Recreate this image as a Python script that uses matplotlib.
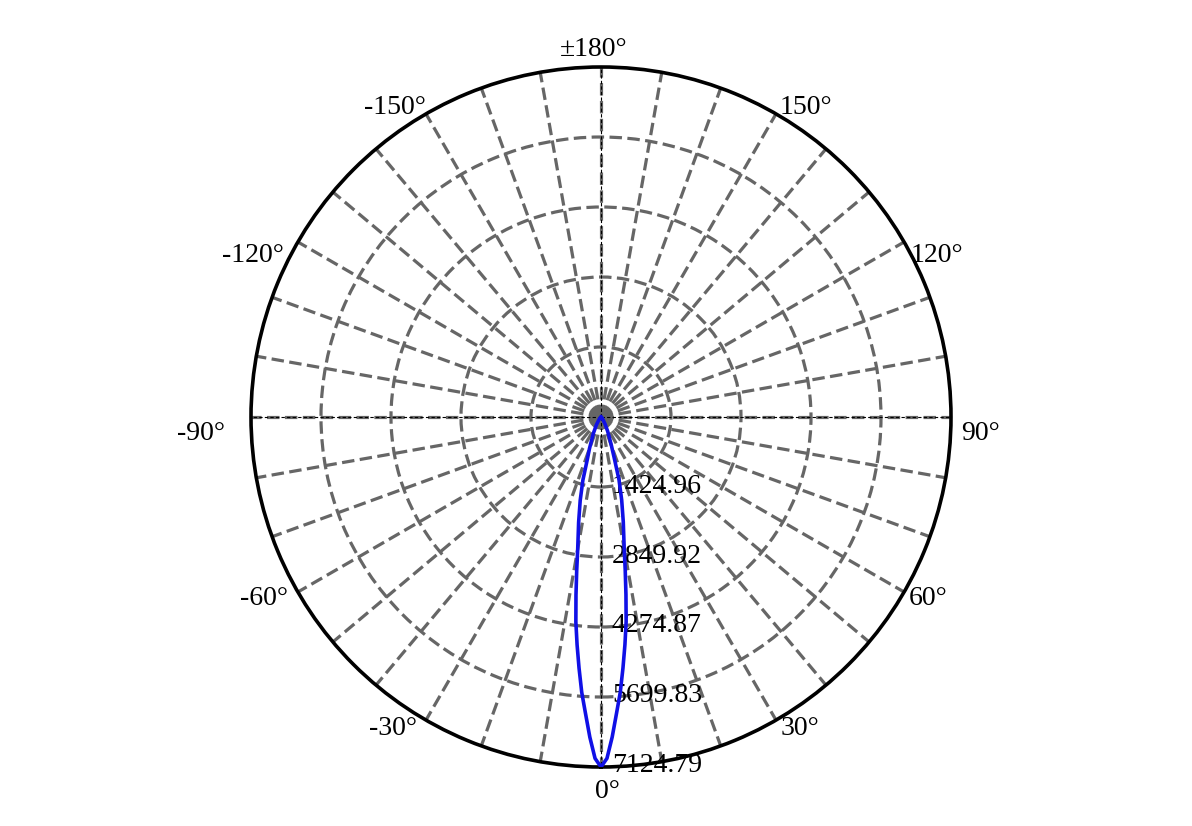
import numpy as np
import matplotlib
matplotlib.use("Agg")
import matplotlib.pyplot as plt

# ---- data ----
r_max = 7124.79
ring_values = [1424.96, 2849.92, 4274.87, 5699.83, 7124.79]
ring_labels = ["1424.96", "2849.92", "4274.87", "5699.83", "7124.79"]

angle_labels_deg = [0, 30, 60, 90, 120, 150, 180, -150, -120, -90, -60, -30]
angle_labels_txt = ["0°", "30°", "60°", "90°", "120°", "150°", "±180°",
                    "-150°", "-120°", "-90°", "-60°", "-30°"]

# intensity curve (deg, cd)
curve_deg = [-180, -90, -70, -60, -50, -40, -35, -30, -25, -22, -20, -18, -16, -14, -12,
             -10, -9, -8, -7, -6, -5, -4, -3, -2, -1,
             0, 1, 2, 3, 4, 5, 6, 7, 8, 9, 10, 12, 14, 16, 18, 20, 22, 25, 30, 35,
             40, 50, 60, 70, 90, 180]
curve_val = [0, 0, 0, 5, 15, 45, 90, 190, 370, 510, 690, 890, 1340, 1750, 2190,
             2730, 3160, 3660, 4200, 4660, 5130, 5620, 6040, 6520, 6950,
             7124.79, 6950, 6520, 6040, 5620, 5130, 4660, 4200, 3650, 3150, 2720, 2180,
             1740, 1330, 860, 620, 460, 320, 160, 80,
             40, 15, 5, 0, 0, 0]

# ---- figure ----
W, H = 1192, 826
fig = plt.figure(figsize=(W / 100, H / 100), dpi=100)
cx, cy, R = 601, 409, 350  # center (from bottom), radius in px
ax = fig.add_axes([(cx - R) / W, (cy - R) / H, 2 * R / W, 2 * R / H], projection="polar")
ax.set_theta_zero_location("S")
ax.set_theta_direction(1)
ax.set_ylim(0, r_max)

grid_color = "#666666"
dash = (0, (3.9, 1.7))
ax.set_xticks(np.deg2rad(np.arange(0, 360, 10)))
ax.set_xticklabels([])
ax.set_yticks(ring_values[:-1])
ax.set_yticklabels([])
ax.grid(True, color=grid_color, linewidth=2.3, linestyle=dash)
ax.spines["polar"].set_color("black")
ax.spines["polar"].set_linewidth(2.6)
ax.tick_params(length=0)

# thin black dashed main axes
for th in [0, 90, 180, 270]:
    ax.plot([np.deg2rad(th)] * 2, [0, r_max], color="black", lw=0.8,
            ls=(0, (3, 2)), zorder=3)

# angle labels
offsets = {0: (6, -24), 30: (24, -8), 60: (24, -6), 90: (30, -16), 120: (33, -13),
           150: (30, 6), 180: (-7, 18), -150: (-31, 6), -120: (-45, -13),
           -90: (-50, -16), -60: (-34, -6), -30: (-33, -8)}
font = "Liberation Serif"
for d, t in zip(angle_labels_deg, angle_labels_txt):
    ax.annotate(t, xy=(np.deg2rad(d), r_max), xytext=offsets[d],
                textcoords="offset pixels", ha="center", va="center",
                fontsize=20, family=font, annotation_clip=False)

# radial labels
for v, t in zip(ring_values, ring_labels):
    ax.annotate(t, xy=(0, v), xytext=(11, 1), textcoords="offset pixels",
                ha="left", va="center", fontsize=20, family=font, zorder=4)

# curve
ax.plot(np.deg2rad(curve_deg), curve_val, color="#1010e6", lw=2.6, zorder=5)

fig.savefig("out.png", dpi=100)
